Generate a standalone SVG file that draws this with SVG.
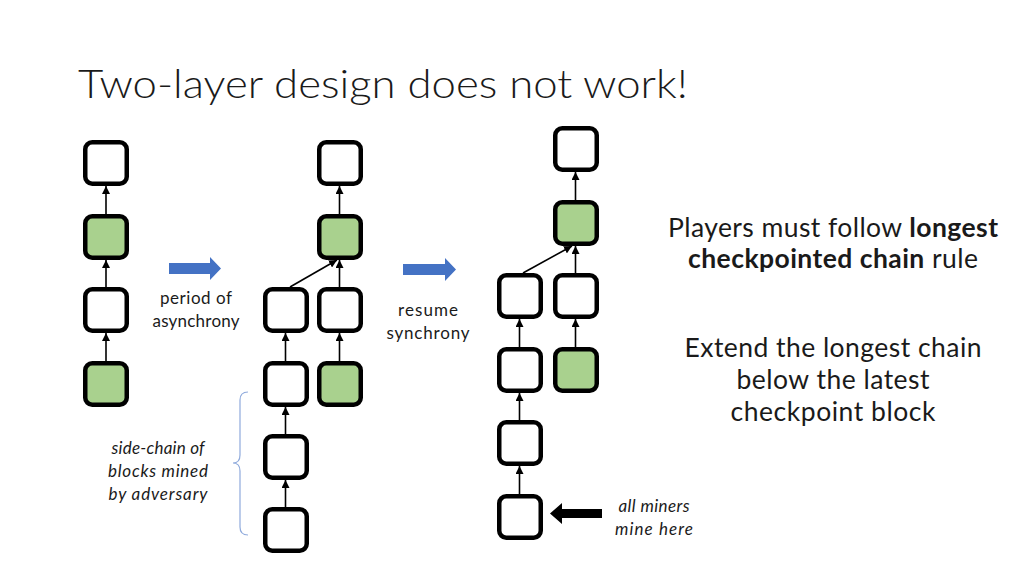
<svg xmlns="http://www.w3.org/2000/svg" width="1024" height="576" viewBox="0 0 1024 576">
<style>
.b{fill:#ffffff;stroke:#000000;stroke-width:4.5}
.g{fill:#a9d18e;stroke:#000000;stroke-width:4.5}
.c{stroke:#000000;stroke-width:1.6;fill:none;marker-end:url(#ah)}
.t{font-family:Lato,"Liberation Sans",sans-serif;fill:#1a1a1a}
.s{font-size:17px;text-anchor:middle}
.i{font-style:italic}
.r{font-size:26.5px;text-anchor:middle}
</style>
<defs>
<marker id="ah" markerUnits="userSpaceOnUse" markerWidth="9" markerHeight="8" refX="8" refY="4" orient="auto">
<path d="M0,0 L8,4 L0,8 z" fill="#000000"/>
</marker>
</defs>
<rect width="1024" height="576" fill="#ffffff"/>
<text class="t" x="78" y="98" font-size="40" font-weight="300" textLength="610" lengthAdjust="spacingAndGlyphs">Two-layer design does not work!</text>

<g id="connectors">
<line class="c" x1="106" y1="214" x2="106" y2="186"/>
<line class="c" x1="106" y1="287" x2="106" y2="260"/>
<line class="c" x1="106" y1="361" x2="106" y2="333"/>
<line class="c" x1="339.5" y1="214" x2="339.5" y2="186"/>
<line class="c" x1="339.5" y1="287" x2="339.5" y2="260"/>
<line class="c" x1="339.5" y1="361" x2="339.5" y2="333"/>
<line class="c" x1="290" y1="287" x2="337" y2="260"/>
<line class="c" x1="285.5" y1="361" x2="285.5" y2="333"/>
<line class="c" x1="285.5" y1="434" x2="285.5" y2="407"/>
<line class="c" x1="285.5" y1="507" x2="285.5" y2="480"/>
<line class="c" x1="575.5" y1="200" x2="575.5" y2="172"/>
<line class="c" x1="575.5" y1="273" x2="575.5" y2="246"/>
<line class="c" x1="575.5" y1="347" x2="575.5" y2="319"/>
<line class="c" x1="523" y1="273" x2="572" y2="246"/>
<line class="c" x1="519.5" y1="347" x2="519.5" y2="319"/>
<line class="c" x1="519.5" y1="420" x2="519.5" y2="393"/>
<line class="c" x1="519.5" y1="494" x2="519.5" y2="466"/>
</g>

<g id="chain1">
<rect id="a1" class="b" x="85.25" y="142.25" width="41.5" height="41.5" rx="7"/>
<rect id="a2" class="g" x="85.25" y="216.25" width="41.5" height="41.5" rx="7"/>
<rect id="a3" class="b" x="85.25" y="289.25" width="41.5" height="41.5" rx="7"/>
<rect id="a4" class="g" x="85.25" y="363.25" width="41.5" height="41.5" rx="7"/>
</g>
<g id="chain2">
<rect id="m1" class="b" x="319.25" y="142.25" width="41.5" height="41.5" rx="7"/>
<rect id="m2" class="g" x="319.25" y="216.25" width="41.5" height="41.5" rx="7"/>
<rect id="m3" class="b" x="319.25" y="289.25" width="41.5" height="41.5" rx="7"/>
<rect id="m4" class="g" x="319.25" y="363.25" width="41.5" height="41.5" rx="7"/>
<rect id="s1" class="b" x="265.25" y="289.25" width="41.5" height="41.5" rx="7"/>
<rect id="s2" class="b" x="265.25" y="363.25" width="41.5" height="41.5" rx="7"/>
<rect id="s3" class="b" x="265.25" y="436.25" width="41.5" height="41.5" rx="7"/>
<rect id="s4" class="b" x="265.25" y="509.25" width="41.5" height="41.5" rx="7"/>
</g>
<g id="chain3">
<rect id="r1" class="b" x="555.25" y="128.25" width="41.5" height="41.5" rx="7"/>
<rect id="r2" class="g" x="555.25" y="202.25" width="41.5" height="41.5" rx="7"/>
<rect id="r3" class="b" x="555.25" y="275.25" width="41.5" height="41.5" rx="7"/>
<rect id="r4" class="g" x="555.25" y="349.25" width="41.5" height="41.5" rx="7"/>
<rect id="l1" class="b" x="499.25" y="275.25" width="41.5" height="41.5" rx="7"/>
<rect id="l2" class="b" x="499.25" y="349.25" width="41.5" height="41.5" rx="7"/>
<rect id="l3" class="b" x="499.25" y="422.25" width="41.5" height="41.5" rx="7"/>
<rect id="l4" class="b" x="499.25" y="496.25" width="41.5" height="41.5" rx="7"/>
</g>

<g id="arrow-async">
<path d="M169,263 L210,263 L210,257 L221,268.5 L210,280 L210,274 L169,274 z" fill="#4472c4"/>
<text class="t s" x="196" y="304" textLength="72">period of</text>
<text class="t s" x="196" y="327" textLength="87">asynchrony</text>
</g>
<g id="arrow-sync">
<path d="M403,264 L445,264 L445,258 L456,269.5 L445,281 L445,275 L403,275 z" fill="#4472c4"/>
<text class="t s" x="428" y="316" textLength="60">resume</text>
<text class="t s" x="428" y="339" textLength="83">synchrony</text>
</g>
<g id="brace">
<path d="M248,392 Q240,392 240,400 L240,455 Q240,463 233,463 Q240,463 240,471 L240,527 Q240,535 248,535" fill="none" stroke="#8faadc" stroke-width="1.2"/>
<text class="t s i" x="158" y="454" textLength="93">side-chain of</text>
<text class="t s i" x="158" y="477" textLength="100">blocks mined</text>
<text class="t s i" x="158" y="500" textLength="99">by adversary</text>
</g>
<g id="miners-arrow">
<path d="M602,509 L562,509 L562,503 L550,513.5 L562,524 L562,518 L602,518 z" fill="#000000"/>
<text class="t s i" x="654" y="512" textLength="71">all miners</text>
<text class="t s i" x="654" y="535" textLength="78">mine here</text>
</g>
<g id="rule-text">
<text class="t r" x="833" y="237" textLength="330">Players must follow <tspan font-weight="bold">longest</tspan></text>
<text class="t r" x="833" y="268" textLength="290"><tspan font-weight="bold">checkpointed chain</tspan> rule</text>
<text class="t r" x="833" y="357" textLength="297">Extend the longest chain</text>
<text class="t r" x="833" y="389" textLength="193">below the latest</text>
<text class="t r" x="833" y="421" textLength="205">checkpoint block</text>
</g>
</svg>
